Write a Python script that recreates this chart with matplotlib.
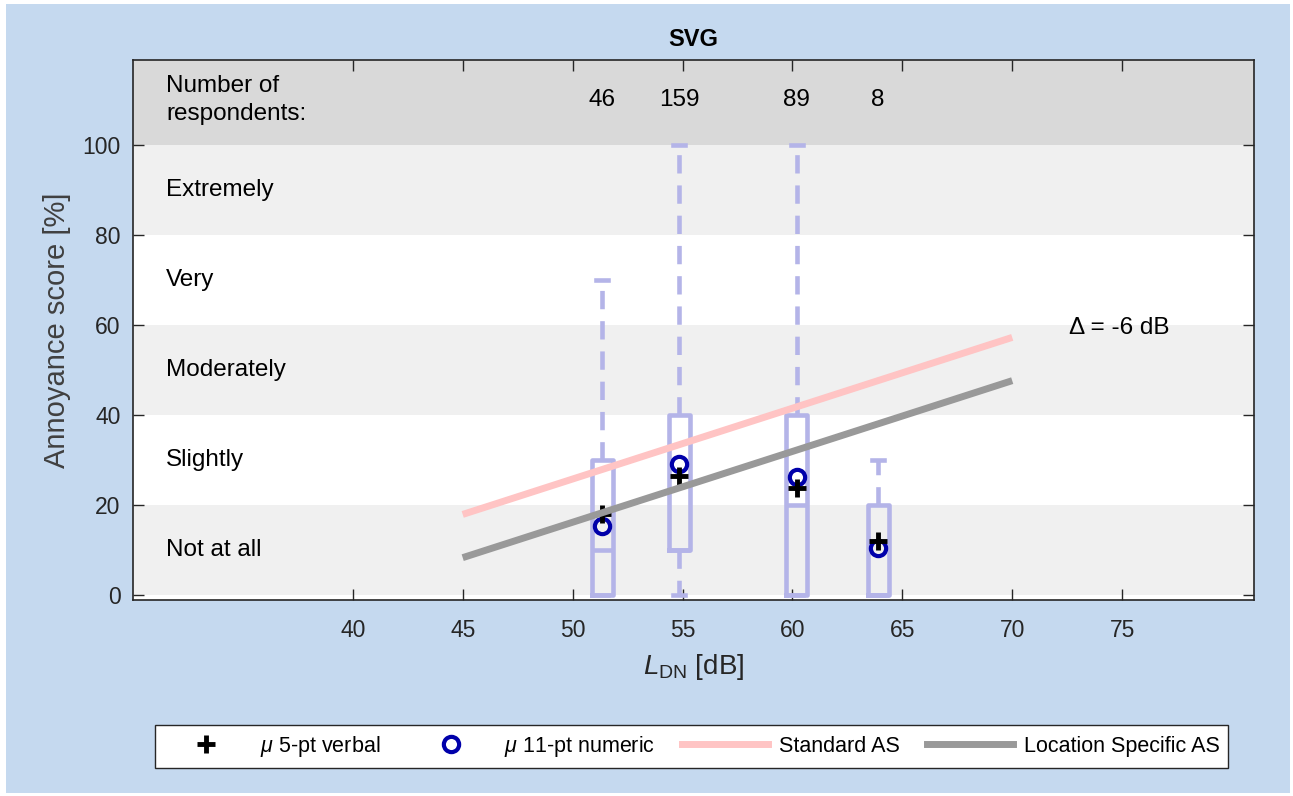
import matplotlib
matplotlib.use('Agg')
import matplotlib.pyplot as plt
from matplotlib.lines import Line2D
from matplotlib.patches import Rectangle

plt.rcParams['font.family'] = ['Liberation Sans', 'DejaVu Sans']
plt.rcParams['mathtext.fontset'] = 'custom'
plt.rcParams['mathtext.rm'] = 'Liberation Sans'
plt.rcParams['mathtext.it'] = 'Liberation Sans:italic'

# ---------------- data ----------------
positions = [51.35, 54.85, 60.2, 63.9]
whislo = [0, 0, 0, 0]
q1 = [0, 10, 0, 0]
med = [10, 10, 20, 0]
q3 = [30, 40, 40, 20]
whishi = [70, 100, 100, 30]
mean_verbal = [18, 26.6, 23.8, 12]
mean_numeric = [15.5, 29.1, 26.4, 10.6]
counts = [46, 159, 89, 8]
std_x = [45, 70]
std_y = [18, 57.3]
loc_x = [45, 70]
loc_y = [8.4, 47.7]
categories = ['Not at all', 'Slightly', 'Moderately', 'Very', 'Extremely']
cat_centers = [10, 30, 50, 70, 90]
xticks = [40, 45, 50, 55, 60, 65, 70, 75]
yticks = [0, 20, 40, 60, 80, 100]

# ---------------- figure ----------------
W, H = 1293, 796
fig = plt.figure(figsize=(W / 100, H / 100), dpi=100)
fig.patch.set_facecolor('white')
fig.patches.append(Rectangle((6 / W, 3 / H), 1284 / W, 789 / H, transform=fig.transFigure,
                             facecolor='#c5d9ef', edgecolor='none', zorder=-10))

ax = fig.add_axes([133 / W, 1 - 600 / H, (1254 - 133) / W, (600 - 59.5) / H])
ax.set_xlim(30, 81)
ax.set_ylim(-1, 119)
ax.set_facecolor('white')

# bands
ax.axhspan(100, 119, color='#d9d9d9', zorder=0, lw=0)
for lo in (0, 40, 80):
    ax.axhspan(lo, lo + 20, color='#f0f0f0', zorder=0, lw=0)

lav = '#b4b4e8'
stats = [dict(med=m, q1=a, q3=b, whislo=lo, whishi=hi, fliers=[])
         for m, a, b, lo, hi in zip(med, q1, q3, whislo, whishi)]
ax.bxp(stats, positions=positions, widths=0.95, showfliers=False, manage_ticks=False,
       capwidths=0.55,
       boxprops=dict(color=lav, lw=3.3),
       whiskerprops=dict(color=lav, lw=3.3, linestyle=(0, (4, 2.6))),
       capprops=dict(color=lav, lw=3.3),
       medianprops=dict(color=lav, lw=3.3),
       zorder=2)

ax.plot(std_x, std_y, color='#ffc4c4', lw=5, solid_capstyle='butt', zorder=6)
ax.plot(loc_x, loc_y, color='#999999', lw=5, solid_capstyle='butt', zorder=6)

ax.plot(positions, mean_numeric, 'o', ms=11, mfc='none', mec='#0000aa', mew=3, zorder=4)
ax.plot(positions, mean_verbal, '+', ms=13, color='black', mew=3.5, zorder=5)

# texts
fs = 17.5
for x, c in zip(positions, counts):
    ax.text(x, 110, str(c), ha='center', va='center', fontsize=fs, color='black')
ax.text(31.5, 110, 'Number of\nrespondents:', ha='left', va='center', fontsize=fs,
        linespacing=1.3, color='black')
for y, t in zip(cat_centers, categories):
    ax.text(31.5, y, t, ha='left', va='center', fontsize=fs, color='black')
ax.text(72.6, 59.3, 'Δ = -6 dB', ha='left', va='center', fontsize=fs, color='black')

# axes styling
ax.set_xticks(xticks)
ax.set_yticks(yticks)
ax.tick_params(direction='in', length=8, width=1, top=True, right=True,
               labelsize=16.5, colors='#262626')
ax.tick_params(axis='x', pad=14)
ax.tick_params(axis='y', pad=9)
for s in ax.spines.values():
    s.set_color('#262626')
    s.set_linewidth(1.2)

ax.set_title('SVG', fontsize=17, fontweight='bold', pad=10, color='black')
ax.set_xlabel(r'$\mathit{L}_{\mathrm{DN}}$ [dB]', fontsize=20, color='#262626', labelpad=7)
ax.set_ylabel('Annoyance score [%]', fontsize=21, color='#404040', labelpad=8)

handles = [
    Line2D([], [], marker='+', ls='none', color='black', ms=13, mew=3.5),
    Line2D([], [], marker='o', ls='none', mfc='none', mec='#0000aa', ms=11, mew=3),
    Line2D([], [], color='#ffc4c4', lw=5),
    Line2D([], [], color='#999999', lw=5),
]
labels = [r'$\mu$ 5-pt verbal', r'$\mu$ 11-pt numeric', 'Standard AS', 'Location Specific AS']
leg = fig.legend(handles, labels, loc='center', bbox_to_anchor=(691.5 / W, 1 - 746.5 / H),
                 ncol=4, fontsize=15.5, frameon=True, fancybox=False, edgecolor='#262626',
                 handlelength=4.0, handletextpad=0.5, columnspacing=1.25, borderpad=0.4,
                 borderaxespad=0, framealpha=1)
leg.get_frame().set_linewidth(1.0)
leg.get_frame().set_facecolor('white')

fig.savefig('out.png', dpi=100)
